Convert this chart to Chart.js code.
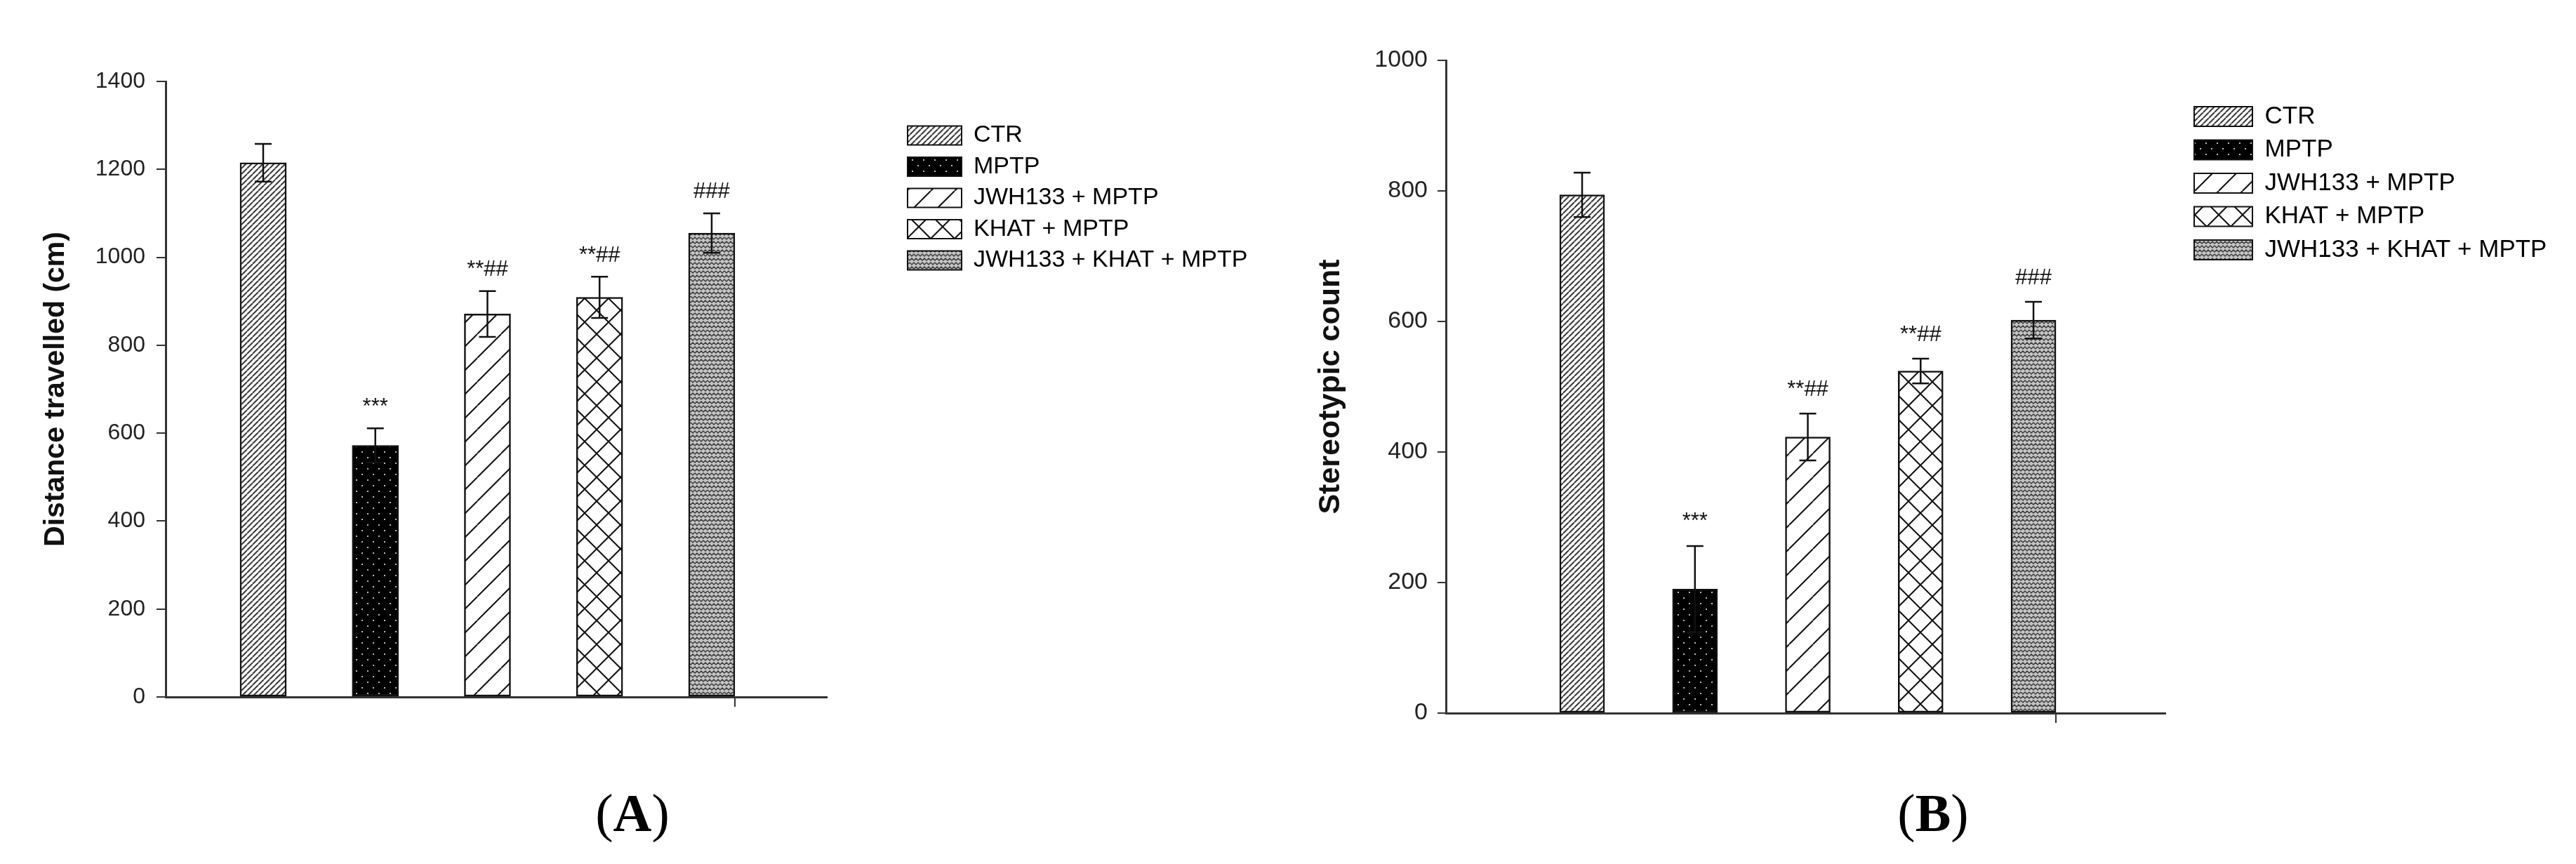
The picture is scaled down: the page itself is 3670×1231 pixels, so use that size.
<!DOCTYPE html>
<html>
<head>
<meta charset="utf-8">
<script src="https://cdn.jsdelivr.net/npm/chart.js@4.4.1/dist/chart.umd.min.js"></script>
<style>
  html, body { margin: 0; padding: 0; background: #fff; }
  body { width: 3670px; height: 1231px; position: relative; overflow: hidden; }
  canvas { position: absolute; top: 0; }
  #chartA { left: 0; }
  #chartB { left: 1835px; }
  .panel {
    position: absolute; top: 1120px; width: 200px; text-align: center;
    font-family: 'Liberation Serif', 'Times New Roman', serif;
    font-size: 76px; line-height: 76px; color: #000;
  }
</style>
</head>
<body>
<canvas id="chartA" width="1835" height="1231"></canvas>
<canvas id="chartB" width="1835" height="1231"></canvas>
<div class="panel" style="left:801px">(<b>A</b>)</div>
<div class="panel" style="left:2654px">(<b>B</b>)</div>
<script>
// groups (legend order = bar order)
const groups = ['CTR', 'MPTP', 'JWH133 + MPTP', 'KHAT + MPTP', 'JWH133 + KHAT + MPTP'];

// (A) distance travelled, mean and error
const distanceMean = [1215, 572, 871, 909, 1055];
const distanceErr = [43, 39, 52, 47, 45];
const distanceTicks = [0, 200, 400, 600, 800, 1000, 1200, 1400];

// (B) stereotypic count, mean and error
const stereoMean = [794, 190, 423, 524, 602];
const stereoErr = [34, 66, 36, 19, 28];
const stereoTicks = [0, 200, 400, 600, 800, 1000];

// significance marks above bars
const signif = ['', '***', '**##', '**##', '###'];

Chart.defaults.font.family = "'Liberation Sans', Arial, sans-serif";
Chart.defaults.color = '#222';

// hatch patterns
function tile(w, h, draw) {
    const c = document.createElement('canvas');
    c.width = w; c.height = h;
    draw(c.getContext('2d'), w, h);
    return c.getContext('2d').createPattern(c, 'repeat');
}

function hatch(s, lw, color, back, slash, backslash) {
    return tile(s, s, function(g) {
        g.fillStyle = back;
        g.fillRect(0, 0, s, s);
        g.strokeStyle = color;
        g.lineWidth = lw;
        g.beginPath();
        [-s, 0, s].forEach(function(o) {
            if (slash) { g.moveTo(o, s); g.lineTo(o + s, 0); }
            if (backslash) { g.moveTo(o, 0); g.lineTo(o + s, s); }
        });
        g.stroke();
    });
}

const patterns = [
    hatch(8, 2, '#3a3a3a', '#fff', true, false),
    tile(16, 16, function(g) {
        g.fillStyle = '#000';
        g.fillRect(0, 0, 16, 16);
        g.fillStyle = '#bbb';
        g.fillRect(3, 3, 2, 2);
        g.fillRect(11, 11, 2, 2);
    }),
    hatch(34, 2, '#111', '#fff', true, false),
    hatch(34, 2, '#111', '#fff', true, true),
    tile(12, 12, function(g) {
        g.fillStyle = '#c4c4c4';
        g.fillRect(0, 0, 12, 12);
        g.strokeStyle = '#3c3c3c';
        g.lineWidth = 1.5;
        g.beginPath();
        g.moveTo(0, 2); g.lineTo(3, 5); g.lineTo(6, 2); g.lineTo(9, 5); g.lineTo(12, 2);
        g.moveTo(-3, 8); g.lineTo(0, 11); g.lineTo(3, 8); g.lineTo(6, 11); g.lineTo(9, 8); g.lineTo(12, 11); g.lineTo(15, 8);
        g.stroke();
    })
];

// error bars + significance marks
const errorBars = {
    id: 'errorBars',
    afterDatasetsDraw(chart, args, opts) {
        const ctx = chart.ctx;
        const y = chart.scales.y;
        const ds = chart.data.datasets[0];
        const meta = chart.getDatasetMeta(0);
        ctx.save();
        ctx.strokeStyle = '#111';
        ctx.lineWidth = 2.5;
        ctx.fillStyle = '#111';
        ctx.font = opts.fontSize + "px 'Liberation Sans', Arial, sans-serif";
        ctx.textAlign = 'center';
        ctx.textBaseline = 'middle';
        meta.data.forEach(function(bar, i) {
            const v = ds.data[i].y, e = ds.err[i];
            const top = y.getPixelForValue(v + e);
            const bot = y.getPixelForValue(v - e);
            ctx.beginPath();
            ctx.moveTo(bar.x, top); ctx.lineTo(bar.x, bot);
            ctx.moveTo(bar.x - opts.cap, top); ctx.lineTo(bar.x + opts.cap, top);
            ctx.moveTo(bar.x - opts.cap, bot); ctx.lineTo(bar.x + opts.cap, bot);
            ctx.stroke();
            if (ds.marks[i]) {
                ctx.fillText(ds.marks[i], bar.x, top - opts.gap);
            }
        });
        ctx.restore();
    }
};

// moves the legend block to a fixed spot beside the plot
const legendPlace = {
    id: 'legendPlace',
    afterLayout(chart, args, opts) {
        const lg = chart.legend;
        if (!lg) return;
        const pad = lg.options.labels.padding;
        lg.left = opts.x - pad;
        lg.top = opts.y - pad;
        lg.right = chart.width;
        lg.bottom = chart.height;
    }
};

function makeChart(id, cfg) {
    const ctx = document.getElementById(id).getContext('2d');
    return new Chart(ctx, {
        type: 'bar',
        data: {
            datasets: [{
                data: cfg.means.map(function(v, i) { return {x: i, y: v}; }),
                err: cfg.errs,
                marks: signif,
                backgroundColor: patterns,
                borderColor: '#111',
                borderWidth: 2.5,
                borderSkipped: false,
                barThickness: cfg.barWidth
            }]
        },
        options: {
            responsive: false,
            animation: false,
            devicePixelRatio: 1,
            layout: { padding: cfg.padding },
            plugins: {
                tooltip: { enabled: false },
                legend: {
                    position: 'chartArea',
                    align: 'start',
                    onClick: null,
                    labels: {
                        boxWidth: cfg.legend.boxWidth,
                        boxHeight: cfg.legend.boxHeight,
                        padding: cfg.legend.padding,
                        color: '#222',
                        font: { size: cfg.legend.fontSize },
                        generateLabels: function() {
                            return groups.map(function(g, i) {
                                return {
                                    text: g, fillStyle: patterns[i], strokeStyle: '#111',
                                    lineWidth: 2, hidden: false, index: i, datasetIndex: 0
                                };
                            });
                        }
                    }
                },
                legendPlace: { x: cfg.legend.x, y: cfg.legend.y },
                errorBars: { cap: 12, gap: cfg.markGap, fontSize: 31 }
            },
            scales: {
                x: {
                    type: 'linear',
                    offset: false,
                    bounds: 'data',
                    min: cfg.xMin,
                    max: cfg.xMax,
                    afterBuildTicks: function(s) { s.ticks = [{value: cfg.extraTick}]; },
                    afterFit: function(s) { s.height = 0; },
                    ticks: { display: false },
                    grid: { offset: false, drawOnChartArea: false, drawTicks: true, tickLength: 14, color: '#333', lineWidth: 2 },
                    border: { display: true, color: '#333', width: 3 }
                },
                y: {
                    min: cfg.ticks[0],
                    max: cfg.ticks[cfg.ticks.length - 1],
                    afterBuildTicks: function(s) { s.ticks = cfg.ticks.map(function(v) { return {value: v}; }); },
                    afterFit: function(s) { s.width = cfg.yWidth; },
                    ticks: {
                        padding: cfg.tickPad, color: '#222', font: { size: cfg.tickFont },
                        callback: function(v) { return String(v); }
                    },
                    grid: { drawOnChartArea: false, drawTicks: true, tickLength: cfg.tickLen, color: '#333', lineWidth: 2 },
                    border: { display: true, color: '#333', width: 3 },
                    title: {
                        display: true,
                        text: cfg.title,
                        color: '#111',
                        padding: 4,
                        font: { size: cfg.titleFont, weight: 'bold' }
                    }
                }
            }
        },
        plugins: [legendPlace, errorBars]
    });
}

// Panel A
makeChart('chartA', {
    means: distanceMean,
    errs: distanceErr,
    ticks: distanceTicks,
    title: 'Distance travelled (cm)',
    padding: { left: 51, top: 116, right: 657, bottom: 238 },
    yWidth: 185,
    xMin: -0.87,
    xMax: 5.027,
    extraTick: 4.207,
    barWidth: 66,
    tickPad: 16,
    tickLen: 13,
    tickFont: 32,
    titleFont: 41,
    markGap: 30,
    legend: { x: 1293, y: 176, boxWidth: 77, boxHeight: 27, padding: 10.5, fontSize: 34 }
});

// Panel B
makeChart('chartB', {
    means: stereoMean,
    errs: stereoErr,
    ticks: stereoTicks,
    title: 'Stereotypic count',
    padding: { left: 31, top: 86, right: 585, bottom: 215 },
    yWidth: 194,
    xMin: -1.207,
    xMax: 5.169,
    extraTick: 4.2,
    barWidth: 64,
    tickPad: 14,
    tickLen: 12,
    tickFont: 34,
    titleFont: 43,
    markGap: 34,
    legend: { x: 1291, y: 148.5, boxWidth: 83, boxHeight: 28, padding: 12.5, fontSize: 35 }
});
</script>
</body>
</html>
